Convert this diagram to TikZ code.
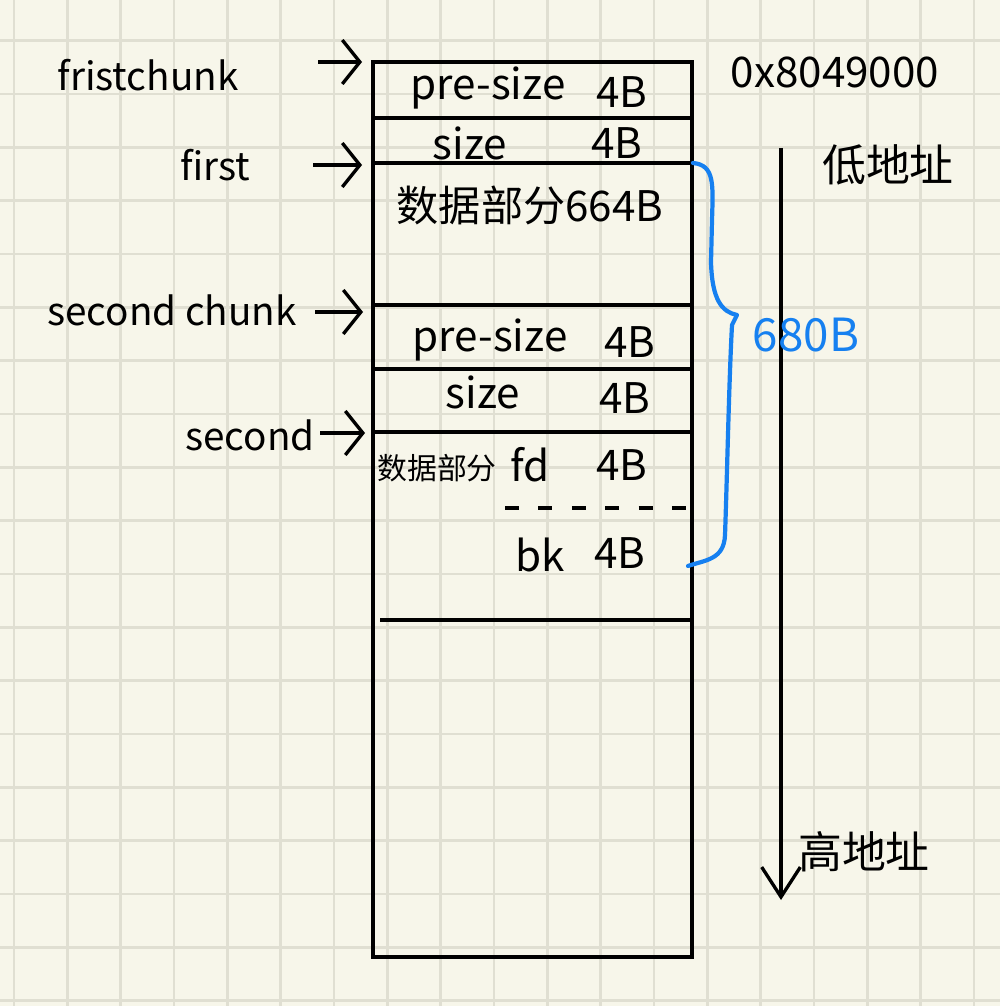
\documentclass[tikz,border=0pt]{standalone}
\usepackage{fontspec}
\setmainfont{Noto Sans}
\newfontfamily\cjk{Noto Sans CJK SC}
\usetikzlibrary{positioning, arrows.meta, calc}
\definecolor{paper}{RGB}{247,246,234}
\definecolor{gridc}{RGB}{224,223,210}
\definecolor{penblue}{RGB}{22,128,240}
\tikzset{
  hand/.style={font=\cjk\fontsize{24}{28}\selectfont, inner sep=0pt},
  handlabel/.style={font=\cjk\fontsize{22}{26}\selectfont, inner sep=0pt},
  handbig/.style={font=\cjk\fontsize{24}{28}\selectfont, inner sep=0pt},
  ptr/.style={line width=1.9pt, -{Straight Barb[length=10pt,width=25pt]}},
  cell/.style={line width=1.9pt},
}

\begin{document}
\begin{tikzpicture}[x=0.02cm, y=-0.02cm]
\fill[paper] (0,0) rectangle (1000,1006);
\useasboundingbox (0,0) rectangle (1000,1006);
\begin{scope}
\clip (0,0) rectangle (1000,1006);
\foreach \i in {0,...,18} \draw[gridc, line width=1.5pt] ({14+53.33*\i},0) -- ({14+53.33*\i},1006);
\foreach \j in {0,...,18} \draw[gridc, line width=1.5pt] (0,{40.7+53.33*\j}) -- (1000,{40.7+53.33*\j});
\end{scope}

\draw[cell] (373,62) rectangle (692,957);
\draw[cell] (373,118) -- (692,118);
\draw[cell] (373,163) -- (692,163);
\draw[cell] (373,305) -- (692,305);
\draw[cell] (373,369) -- (692,369);
\draw[cell] (373,432) -- (692,432);
\draw[cell] (380,620) -- (692,620);
\draw[cell, dash pattern=on 8pt off 11pt] (505,508) -- (692,508);

\node[handlabel] (fristchunk) at (148,75) {fristchunk};
\node[handlabel] (first) at (215,165) {first};
\node[handlabel] (secondchunk) at (172,310) {second chunk};
\node[handlabel] (second) at (250,435) {second};

\coordinate (t1) at (318,62);
\coordinate (t2) at (313,165);
\coordinate (t3) at (315,312);
\coordinate (t4) at (320,433);
\coordinate (h1) at (362,62);
\coordinate (h2) at (362,165);
\coordinate (h3) at (363,312);
\coordinate (h4) at (365,433);
\draw[ptr] (t1) -- (h1);
\draw[ptr] (t2) -- (h2);
\draw[ptr] (t3) -- (h3);
\draw[ptr] (t4) -- (h4);

\node[hand] (presizeA) at (488,88) {pre-size};
\node[hand] (presizeAb) at (622,92) {4B};
\node[hand] (sizeA) at (470,143) {size};
\node[hand] (sizeAb) at (617,143) {4B};
\node[handbig] (dataA) at (530,205) {数据部分664B};
\node[hand] (presizeB) at (490,340) {pre-size};
\node[hand] (presizeBb) at (630,342) {4B};
\node[hand] (sizeB) at (483,392) {size};
\node[hand] (sizeBb) at (625,398) {4B};
\node[hand, font=\cjk\fontsize{17}{20}\selectfont] (dataB) at (437,468) {数据部分};
\node[hand] (fd) at (530,465) {fd};
\node[hand] (fdb) at (622,465) {4B};
\node[hand] (bk) at (540,555) {bk};
\node[hand] (bkb) at (620,553) {4B};

\node[handbig] (base) at (835,72) {0x8049000};
\draw[line width=1.9pt, -{Straight Barb[length=17pt,width=22pt]}] (781,148) -- (781,900);
\node[handbig, font=\cjk\fontsize{25}{28}\selectfont] (low) at (888,165) {低地址};
\node[handbig, font=\cjk\fontsize{25}{28}\selectfont] (high) at (864,852) {高地址};

\draw[penblue, line width=2.4pt, line cap=round, line join=round] (693,163) .. controls (715,165) and (713,185) .. (712,220) -- (711,262) .. controls (712,300) and (722,312) .. (737,315) -- (732,325) .. controls (729,380) and (727,480) .. (725,535) .. controls (724,560) and (705,560) .. (688,566);
\node[handbig, penblue, font=\cjk\fontsize{26}{30}\selectfont] (total) at (806,335) {680B};
\end{tikzpicture}
\end{document}
